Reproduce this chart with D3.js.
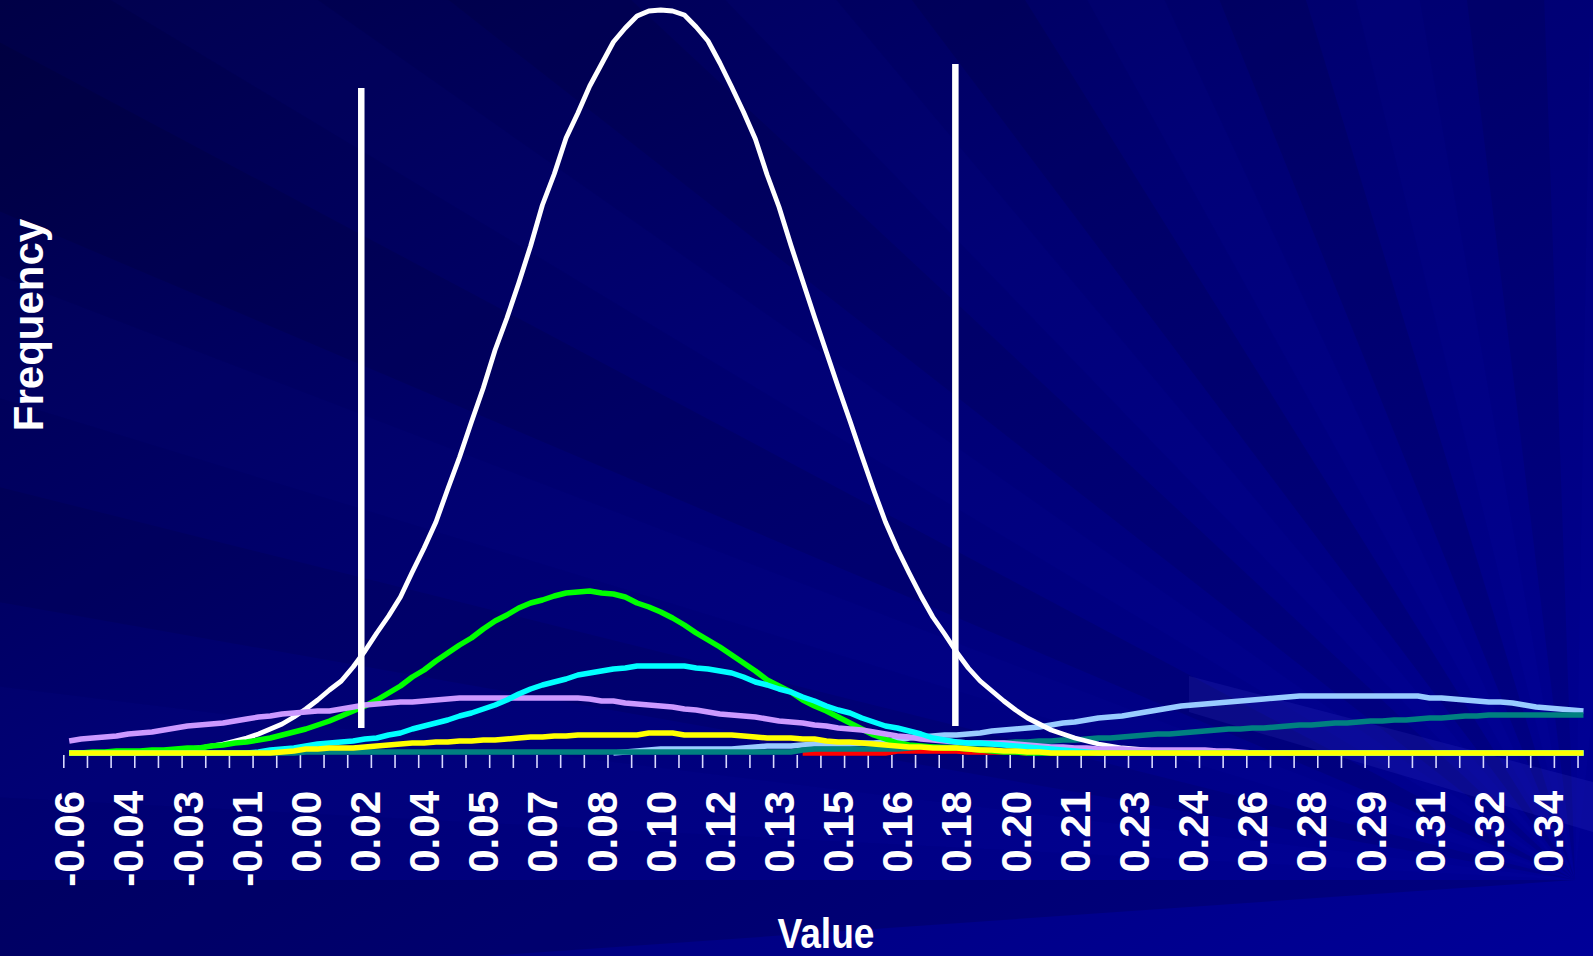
<!DOCTYPE html>
<html><head><meta charset="utf-8">
<script src="https://cdn.jsdelivr.net/npm/d3@7"></script>
<style>html,body{margin:0;padding:0;background:#000070;overflow:hidden}</style>
</head><body><svg id="c" width="1593" height="956"></svg>
<script>
// ---------------- DATA ----------------
const categories = [
-0.0600,-0.0568,-0.0536,-0.0504,-0.0472,-0.0440,-0.0408,-0.0376,-0.0344,-0.0312,
-0.0280,-0.0248,-0.0216,-0.0184,-0.0152,-0.0120,-0.0088,-0.0056,-0.0024,0.0008,
0.0040,0.0072,0.0104,0.0136,0.0168,0.0200,0.0232,0.0264,0.0296,0.0328,
0.0360,0.0392,0.0424,0.0456,0.0488,0.0520,0.0552,0.0584,0.0616,0.0648,
0.0680,0.0712,0.0744,0.0776,0.0808,0.0840,0.0872,0.0904,0.0936,0.0968,
0.1000,0.1032,0.1064,0.1096,0.1128,0.1160,0.1192,0.1224,0.1256,0.1288,
0.1320,0.1352,0.1384,0.1416,0.1448,0.1480,0.1512,0.1544,0.1576,0.1608,
0.1640,0.1672,0.1704,0.1736,0.1768,0.1800,0.1832,0.1864,0.1896,0.1928,
0.1960,0.1992,0.2024,0.2056,0.2088,0.2120,0.2152,0.2184,0.2216,0.2248,
0.2280,0.2312,0.2344,0.2376,0.2408,0.2440,0.2472,0.2504,0.2536,0.2568,
0.2600,0.2632,0.2664,0.2696,0.2728,0.2760,0.2792,0.2824,0.2856,0.2888,
0.2920,0.2952,0.2984,0.3016,0.3048,0.3080,0.3112,0.3144,0.3176,0.3208,
0.3240,0.3272,0.3304,0.3336,0.3368,0.3400,0.3432,0.3464,0.3496];

const seriesWhite = [
0,0,0,0,0,0,0,1,2,3,
4,5,7,9,12,15,19,24,29,36,
44,53,63,72,86,102,120,137,156,181,
205,231,264,296,331,365,403,435,470,507,
548,579,615,640,667,689,711,725,737,742,
743,742,738,726,712,690,666,641,614,578,
546,508,472,436,401,366,332,297,263,231,
204,180,157,136,119,101,85,72,62,52,
43,35,29,23,19,15,12,9,7,5,
4,3,2,1,1,0,0,0,0,0,
0,0,0,0,0,0,0,0,0,0,
0,0,0,0,0,0,0,0,0,0,
0,0,0,0,0,0,0,0,0];

const seriesGreen = [
0,0,1,1,2,2,2,3,3,4,
5,5,7,8,10,11,13,15,18,21,
24,28,32,37,42,47,53,60,67,76,
83,92,100,108,115,124,132,138,145,150,
153,157,160,161,162,160,159,156,150,146,
141,135,128,120,113,106,98,90,82,73,
67,61,53,47,42,36,30,24,18,14,
10,8,7,6,5,5,4,3,2,1,
1,0,0,0,0,0,0,0,0,0,
0,0,0,0,0,0,0,0,0,0,
0,0,0,0,0,0,0,0,0,0,
0,0,0,0,0,0,0,0,0,0,
0,0,0,0,0,0,0,0,0];

const seriesCyan = [
0,0,0,0,0,0,0,0,0,0,
0,0,0,0,0,0,1,3,4,5,
7,9,10,11,12,14,15,18,20,24,
27,30,33,37,40,44,48,53,59,64,
68,71,74,78,80,82,84,85,87,87,
87,87,87,85,84,82,80,76,71,68,
64,61,56,52,47,43,40,35,31,27,
25,22,19,15,13,11,10,10,9,8,
7,6,5,4,3,2,1,0,0,0,
0,0,0,0,0,0,0,0,0,0,
0,0,0,0,0,0,0,0,0,0,
0,0,0,0,0,0,0,0,0,0,
0,0,0,0,0,0,0,0,0];

const seriesLavender = [
12,14,15,16,17,19,20,21,23,25,
27,28,29,30,32,34,36,37,39,40,
41,42,42,44,46,48,49,50,51,51,
52,53,54,55,55,55,55,55,55,55,
55,55,55,55,54,52,52,50,49,48,
47,46,44,43,41,39,38,37,36,34,
32,31,30,28,27,25,24,23,21,19,
17,16,14,13,12,11,10,10,10,10,
9,8,7,6,6,5,5,4,4,4,
3,3,3,3,3,3,3,2,2,1,
0,0,0,0,0,0,0,0,0,0,
0,0,0,0,0,0,0,0,0,0,
0,0,0,0,0,0,0,0,0];

const seriesYellow = [
0,0,0,0,0,0,0,0,0,0,
0,0,0,0,0,0,0,0,1,2,
4,4,5,5,5,6,7,8,9,10,
10,11,11,12,12,13,13,14,15,16,
16,17,17,18,18,18,18,18,18,20,
20,20,18,18,18,18,18,17,16,15,
15,15,14,14,12,11,11,10,9,8,
7,6,6,5,5,5,4,3,3,2,
2,1,1,0,0,0,0,0,0,0,
0,0,0,0,0,0,0,0,0,0,
0,0,0,0,0,0,0,0,0,0,
0,0,0,0,0,0,0,0,0,0,
0,0,0,0,0,0,0,0,0];

const seriesLightBlue = [
null,null,null,null,null,null,null,null,null,null,
null,null,null,null,null,null,null,null,null,null,
null,null,null,null,null,null,null,null,null,null,
null,null,null,null,null,null,null,null,null,null,
null,null,null,null,null,null,0,1,2,3,
4,4,4,4,4,4,4,5,6,7,
7,7,8,9,9,9,9,10,10,11,
13,15,16,17,18,18,19,20,22,23,
24,25,26,28,30,31,33,35,36,37,
39,41,43,45,47,48,49,50,51,52,
53,54,55,56,57,57,57,57,57,57,
57,57,57,57,57,55,55,54,53,52,
51,51,50,48,46,45,44,43,42];

const seriesTeal = [
0,0,0,0,0,0,0,0,0,0,
0,0,0,0,0,0,0,0,0,0,
1,1,1,1,1,1,1,1,1,1,
1,1,1,1,1,1,1,1,1,1,
1,1,1,1,1,1,1,1,1,1,
1,1,1,1,1,1,1,1,1,1,
1,1,3,4,4,4,4,4,4,4,
4,5,6,6,6,6,7,8,9,10,
11,11,12,12,13,13,14,15,15,16,
17,18,19,19,20,21,22,23,24,24,
25,25,26,27,28,28,29,30,30,31,
32,32,33,33,34,35,35,36,37,37,
38,38,38,38,38,38,38,38,38];

const seriesRed = [
null,null,null,null,null,null,null,null,null,null,
null,null,null,null,null,null,null,null,null,null,
null,null,null,null,null,null,null,null,null,null,
null,null,null,null,null,null,null,null,null,null,
null,null,null,null,null,null,null,null,null,null,
null,null,null,null,null,null,null,null,null,null,
null,null,0,0,0,0,0,0,0,0,
2,2,2,2,2,2,1,1,1,1,
1,0,null,null,null,null,null,null,null,null,
null,null,null,null,null,null,null,null,null,null,
null,null,null,null,null,null,null,null,null,null,
null,null,null,null,null,null,null,null,null,null,
null,null,null,null,null,null,null,null,null];

// interval bounds drawn as white vertical lines (value, top, bottom frequency)
const markerValues = [0.0190, 0.1797];
const markerTops = [665, 689];
const markerBottoms = [25, 27];

const labelEvery = 5;
const tickEvery = 2;
const xTitle = "Value";
const yTitle = "Frequency";

// ---------------- DRAW ----------------
const W = 1593, H = 956;
const svg = d3.select("#c");
const defs = svg.append("defs");

const bg = defs.append("linearGradient").attr("id","bg")
  .attr("x1","0").attr("y1","0").attr("x2","1").attr("y2","1");
bg.append("stop").attr("offset","0").attr("stop-color","#000046");
bg.append("stop").attr("offset","0.45").attr("stop-color","#000072");
bg.append("stop").attr("offset","1").attr("stop-color","#000098");
svg.append("rect").attr("width",W).attr("height",H).attr("fill","url(#bg)");

// decorative soft rays fanning from the lower right
const F = [1575, 880], R = 3000;
const rays = [
 [176,180,"#000",0.14],[183,187,"#22f",0.035],[190,194,"#000",0.08],
 [197,201,"#22f",0.03],[203,208,"#000",0.09],[211,215,"#22f",0.035],
 [218,223,"#000",0.08],[226,230,"#22f",0.04],[233,238,"#000",0.09],
 [241,245,"#22f",0.04],[248,253,"#000",0.09],[256,260,"#22f",0.035],
 [263,268,"#000",0.08],[271,276,"#22f",0.03]];
const rad = a => a*Math.PI/180;
const rayG = svg.append("g");
rayG.selectAll("path").data(rays).join("path")
  .attr("d", d => `M${F[0]},${F[1]}L${F[0]+R*Math.cos(rad(d[0]))},${F[1]+R*Math.sin(rad(d[0]))}L${F[0]+R*Math.cos(rad(d[1]))},${F[1]+R*Math.sin(rad(d[1]))}Z`)
  .attr("fill", d=>d[2]).attr("opacity", d=>d[3]);
svg.append("path").attr("d","M1189,676L1593,782L1593,832L1189,712Z")
  .attr("fill","#6a6aff").attr("opacity",0.10);

const n = categories.length;
const x0 = 63.3, bw = 11.83;
const x = d3.scaleBand().domain(d3.range(n)).range([x0, x0 + n*bw]).padding(0);
const xc = i => x(i) + x.bandwidth()/2;
const y = d3.scaleLinear().domain([0, 743]).range([753, 10]);

// tick marks on category boundaries
const xb = d3.scaleLinear().domain([0, n]).range(x.range());
const tickAxis = svg.append("g").attr("transform","translate(0,755)")
  .call(d3.axisBottom(xb).tickValues(d3.range(0, n+1, tickEvery)).tickSize(13).tickFormat(""));
tickAxis.select(".domain").remove();
tickAxis.selectAll("line").attr("stroke","#d8d8ff").attr("stroke-width",1.6);

// labels
const labAxis = svg.append("g").attr("transform","translate(0,791)")
  .call(d3.axisBottom(x).tickValues(d3.range(0, n, labelEvery)).tickSize(0)
    .tickFormat(i => categories[i].toFixed(2)));
labAxis.select(".domain").remove();
labAxis.selectAll("text")
  .attr("x",0).attr("y",0).attr("dy",null)
  .attr("transform","translate(15,0) rotate(-90)")
  .attr("text-anchor","end")
  .attr("fill","#ffffff")
  .style("font-family","'Liberation Sans', Arial, sans-serif")
  .style("font-weight","bold").style("font-size","42px");

// series
const line = d3.line().defined(d => d !== null).x((d,i) => xc(i)).y(d => y(d));
const series = [
  {v: seriesRed, c:"#ff0000", w:5.5},
  {v: seriesLightBlue, c:"#99ccff", w:5.5},
  {v: seriesTeal, c:"#008080", w:5.5},
  {v: seriesWhite, c:"#ffffff", w:4.8},
  {v: seriesGreen, c:"#00ff00", w:5.5},
  {v: seriesLavender, c:"#cc99ff", w:5.5},
  {v: seriesCyan, c:"#00ffff", w:5.5},
  {v: seriesYellow, c:"#ffff00", w:5.5}
];
svg.append("g").selectAll("path").data(series).join("path")
  .attr("d", d => line(d.v))
  .attr("fill","none").attr("stroke", d=>d.c).attr("stroke-width", d=>d.w)
  .attr("stroke-linejoin","round").attr("stroke-linecap","butt");

// marker lines
const xv = d3.scaleLinear().domain([categories[0], categories[n-1]]).range([xc(0), xc(n-1)]);
svg.append("g").selectAll("line").data(markerValues).join("line")
  .attr("x1", d => xv(d)).attr("x2", d => xv(d))
  .attr("y1", (d,i) => y(markerTops[i])).attr("y2", (d,i) => y(markerBottoms[i]))
  .attr("stroke","#ffffff").attr("stroke-width",6.5);

// titles
svg.append("text").text(xTitle)
  .attr("x", 826).attr("y", 948).attr("text-anchor","middle")
  .attr("textLength", 97).attr("lengthAdjust","spacingAndGlyphs")
  .attr("fill","#fff").style("font-family","'Liberation Sans', Arial, sans-serif")
  .style("font-weight","bold").style("font-size","42px");
svg.append("text").text(yTitle)
  .attr("transform","translate(43,325) rotate(-90)").attr("text-anchor","middle")
  .attr("fill","#fff").style("font-family","'Liberation Sans', Arial, sans-serif")
  .style("font-weight","bold").style("font-size","42px");
</script></body></html>
